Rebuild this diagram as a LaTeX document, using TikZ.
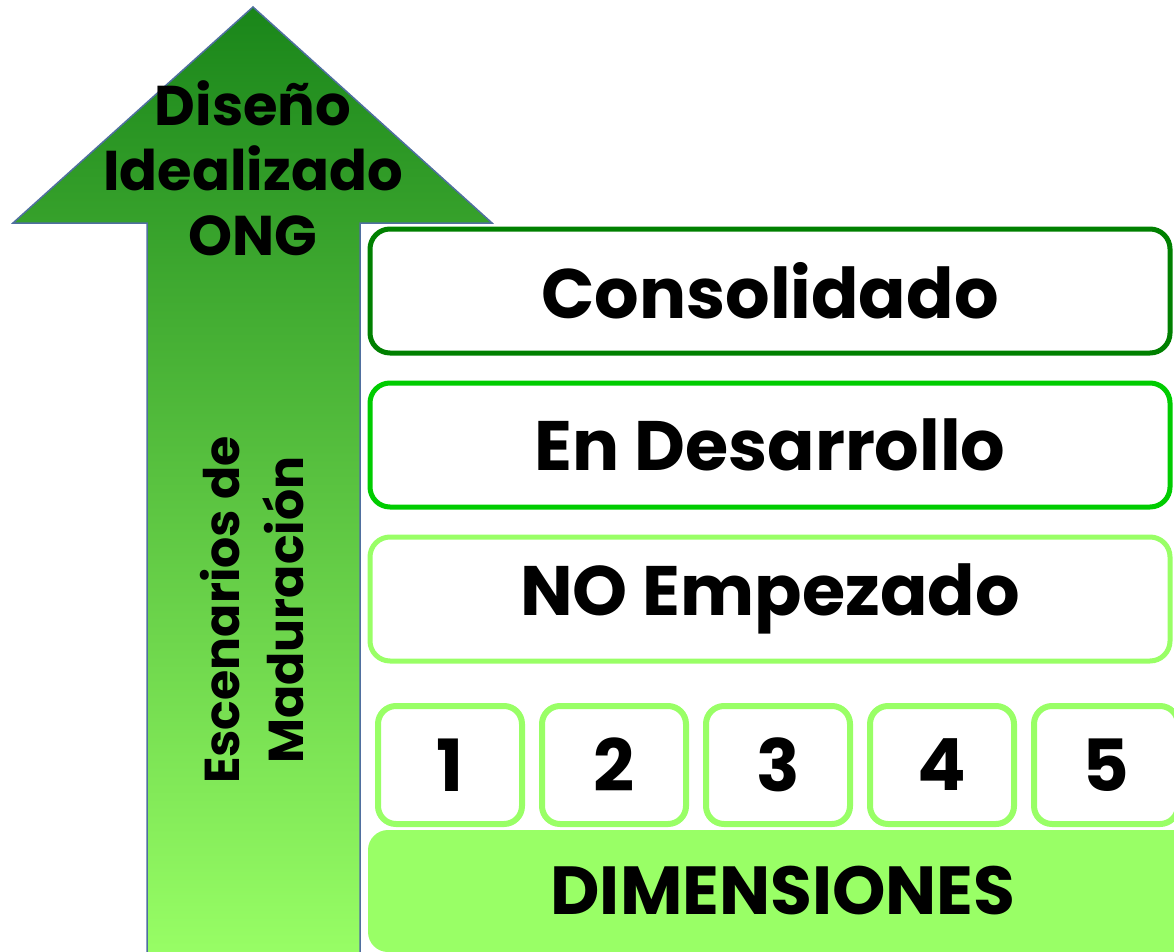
\documentclass[tikz,border=0pt]{standalone}
\usepackage{fontspec}
\setmainfont{Poppins}
\usetikzlibrary{positioning}
\definecolor{darkgreen}{HTML}{008000}
\definecolor{midgreen}{HTML}{00CC00}
\definecolor{lightgreen}{HTML}{99FF66}
\definecolor{arrowtop}{HTML}{1A861A}
\definecolor{arrowmid}{HTML}{8CE85C}
\definecolor{arrowline}{HTML}{4F6F9F}

\begin{document}
\begin{tikzpicture}[x=1pt, y=-1pt, node distance=25pt]
\tikzstyle{level}=[draw, line width=5pt, rounded corners=20pt, fill=white, minimum width=800pt, minimum height=124pt, inner sep=0pt, font=\fontsize{70}{72}\selectfont\bfseries]
\tikzstyle{dimbox}=[draw=lightgreen, line width=6pt, rounded corners=18pt, fill=white, minimum width=144pt, minimum height=118pt, inner sep=0pt, font=\fontsize{72}{72}\selectfont\bfseries]
\useasboundingbox (0,0) rectangle (1174,952);
\shade[top color=arrowtop, middle color=arrowmid, bottom color=lightgreen, draw=arrowline, line width=1.5pt]
  (253,7) -- (492,223) -- (360,223) -- (360,962) -- (147,962) -- (147,223) -- (13,223) -- cycle;
\node[align=center, font=\fontsize{56}{65}\selectfont\bfseries] (goal) at (253,168) {Diseño\\Idealizado\\ONG};
\node[rotate=90, align=center, font=\fontsize{49}{64}\selectfont\bfseries] (scen) at (252,610) {Escenarios de\\Maduración};
\node[level, draw=darkgreen] (cons) at (770,291) {Consolidado};
\node[level, draw=midgreen]  (dev)  [below=of cons] {En Desarrollo};
\node[level, draw=lightgreen] (none) [below=of dev] {NO Empezado};
\node[dimbox] (d1) at (450,765) {1};
\node[dimbox] (d2) [right=14pt of d1] {2};
\node[dimbox] (d3) [right=14pt of d2] {3};
\node[dimbox] (d4) [right=14pt of d3] {4};
\node[dimbox] (d5) [right=14pt of d4] {5};
\node[fill=lightgreen, rounded corners=20pt, minimum width=830pt, minimum height=122pt, inner sep=0pt, font=\fontsize{68}{70}\selectfont\bfseries] (dims) at (783,891) {DIMENSIONES};
\end{tikzpicture}
\end{document}
